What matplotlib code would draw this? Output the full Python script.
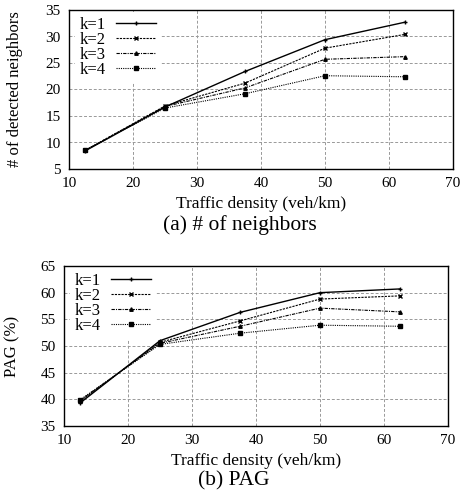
import matplotlib
matplotlib.use("Agg")
import matplotlib.pyplot as plt

plt.rcParams["font.family"] = ["Liberation Serif", "DejaVu Serif"]

density = [12.5, 25, 37.5, 50, 62.5]
labels = ["k=1", "k=2", "k=3", "k=4"]

neighbors_k1 = [8.4, 16.7, 23.4, 29.4, 32.7]
neighbors_k2 = [8.5, 16.9, 21.2, 27.8, 30.4]
neighbors_k3 = [8.5, 16.8, 20.3, 25.7, 26.2]
neighbors_k4 = [8.5, 16.5, 19.2, 22.6, 22.4]

pag_k1 = [39.3, 51.0, 56.3, 60.0, 60.7]
pag_k2 = [39.6, 50.7, 54.7, 58.8, 59.4]
pag_k3 = [39.8, 50.5, 53.7, 57.1, 56.4]
pag_k4 = [39.9, 50.3, 52.4, 53.9, 53.7]

styles = [
    dict(ls="-", marker="+", ms=3.5, lw=1.0),
    dict(ls=(0, (2, 1)), marker="x", ms=2.5, lw=0.8),
    dict(ls=(0, (3, 1, 1, 1)), marker="^", ms=2.5, lw=0.8),
    dict(ls=(0, (1, 1)), marker="s", ms=2.2, lw=0.8),
]


def draw(ax, series, ylim, yticks, ylabel, label_x):
    for ys, lab, st in zip(series, labels, styles):
        ax.plot(density, ys, color="black", label=lab, mec="black", **st)
    ax.set_xlim(10, 70)
    ax.set_xticks(range(10, 71, 10))
    ax.set_ylim(*ylim)
    ax.set_yticks(yticks)
    ax.grid(True, color="#999999", ls=(0, (3, 2)), lw=0.7)
    ax.tick_params(direction="in", length=0, labelsize=11, pad=6)
    ax.set_xlabel("Traffic density (veh/km)", fontsize=12.5, labelpad=4)
    ax.set_ylabel(ylabel, fontsize=12, va="center")
    ax.yaxis.set_label_coords(label_x, 0.5)
    leg = ax.legend(loc="upper left", bbox_to_anchor=(0.015, 0.99),
                    markerfirst=False, fontsize=12,
                    frameon=True, fancybox=False, edgecolor="white",
                    framealpha=1, handlelength=2.4, labelspacing=-0.05,
                    borderpad=0.3, borderaxespad=0, handletextpad=0.6)
    leg.get_frame().set_linewidth(0)
    for sp in ax.spines.values():
        sp.set_linewidth(1.0)


fig = plt.figure(figsize=(4.61, 4.94), dpi=100)
ax1 = fig.add_axes([69 / 461, 1 - 169 / 494, 384 / 461, 159 / 494])
ax2 = fig.add_axes([64 / 461, 1 - 426 / 494, 384 / 461, 160 / 494])

draw(ax1, [neighbors_k1, neighbors_k2, neighbors_k3, neighbors_k4],
     (5, 35), range(5, 36, 5), "# of detected neighbors", -54 / 384)
draw(ax2, [pag_k1, pag_k2, pag_k3, pag_k4],
     (35, 65), range(35, 66, 5), "PAG (%)", -52 / 384)

fig.text(240 / 461, 1 - 225 / 494, "(a) # of neighbors", ha="center", va="center", fontsize=15.5)
fig.text(234 / 461, 1 - 481 / 494, "(b) PAG", ha="center", va="center", fontsize=15.5)

fig.savefig("out.png", dpi=100)
